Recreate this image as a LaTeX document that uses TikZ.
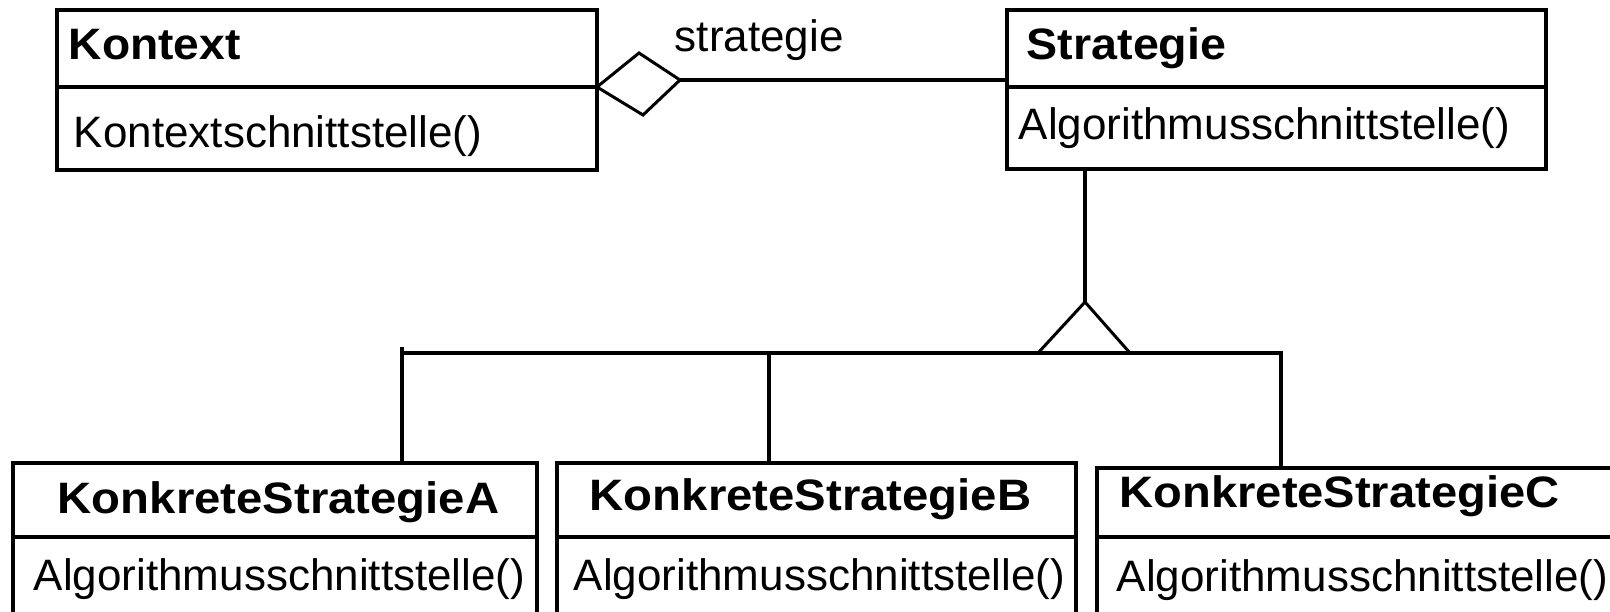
\documentclass[tikz,border=0pt]{standalone}
\usepackage{fontspec}
\setmainfont{Liberation Sans}
\begin{document}
\begin{tikzpicture}[x=1pt,y=-1pt,
  line width=3.6pt,
  frame/.style={draw=none,inner sep=0pt,outer sep=0pt},
  txt/.style={inner sep=0pt,anchor=base west,font=\fontsize{44}{50}\selectfont},
  ttl/.style={inner sep=0pt,anchor=base west,font=\fontsize{44}{50}\selectfont\bfseries},
  thin/.style={line width=3pt,line join=miter}]
\useasboundingbox (0,0) rectangle (1610,612);
% --- class boxes ---
\node[frame,draw,line width=3.6pt,minimum width=540,minimum height=160] (kontext) at (327,90) {};
\node[frame,draw,line width=3.6pt,minimum width=539,minimum height=159] (strategie) at (1276.5,89.5) {};
\draw (kontext.west |- 0,87) -- (kontext.east |- 0,87);
\draw (strategie.west |- 0,87) -- (strategie.east |- 0,87);
\node[frame,minimum width=524,minimum height=149] (kA) at (275,537.5) {};
\node[frame,minimum width=519,minimum height=149] (kB) at (816.5,537.5) {};
\node[frame,minimum width=513,minimum height=144] (kC) at (1353.5,540) {};
\draw (kA.south west) -- (kA.north west) -- (kA.north east) -- (kA.south east);
\draw (kB.south west) -- (kB.north west) -- (kB.north east) -- (kB.south east);
\draw (kC.south west) -- (kC.north west) -- (kC.north east);
\draw (kA.west |- 0,537) -- (kA.east |- 0,537);
\draw (kB.west |- 0,537) -- (kB.east |- 0,537);
\draw (kC.west |- 0,537) -- (kC.east |- 0,537);
% --- texts ---
\node[ttl] (tKontext) at (67,60) {\scalebox{1.05}[1]{Kontext}};
\node[txt] (mKontext) at (72,148) {Kontextschnittstelle()};
\node[ttl] (tStrategie) at (1025,60) {\scalebox{1.06}[1]{Strategie}};
\node[txt] (mStrategie) at (1017,140) {Algorithmusschnittstelle()};
\node[txt] (lStrategie) at (673,52) {strategie};
\node[ttl] (tA) at (56,513) {\scalebox{1.075}[1]{KonkreteStrategieA}};
\node[txt] (mA) at (32,590) {Algorithmusschnittstelle()};
\node[ttl] (tB) at (588,510) {\scalebox{1.075}[1]{KonkreteStrategieB}};
\node[txt] (mB) at (572,590) {Algorithmusschnittstelle()};
\node[ttl] (tC) at (1118,507) {\scalebox{1.07}[1]{KonkreteStrategieC}};
\node[txt] (mC) at (1115,591) {Algorithmusschnittstelle()};
% --- aggregation ---
\coordinate (dL) at (597,87);
\coordinate (dT) at (639,53);
\coordinate (dR) at (680,80);
\coordinate (dB) at (643,115);
\draw[thin] (dL) -- (dT) -- (dR) -- (dB) -- cycle;
\draw (dR) -- (dR -| strategie.west);
% --- generalization ---
\coordinate (apex) at (1085,302);
\coordinate (triL) at (1038,353);
\coordinate (triR) at (1130,353);
\draw (apex |- strategie.south) -- (apex);
\draw[thin] (apex) -- (triL) -- (triR) -- cycle;
\coordinate (jA) at (402,353);
\coordinate (jB) at (769,353);
\coordinate (jC) at (1281,353);
\draw[line cap=rect] (jA) -- (jC);
\draw (jA) ++(0,-6) -- (jA |- kA.north);
\draw (jB) -- (jB |- kB.north);
\draw[line cap=rect] (jC) -- (jC |- kC.north);
\end{tikzpicture}
\end{document}
